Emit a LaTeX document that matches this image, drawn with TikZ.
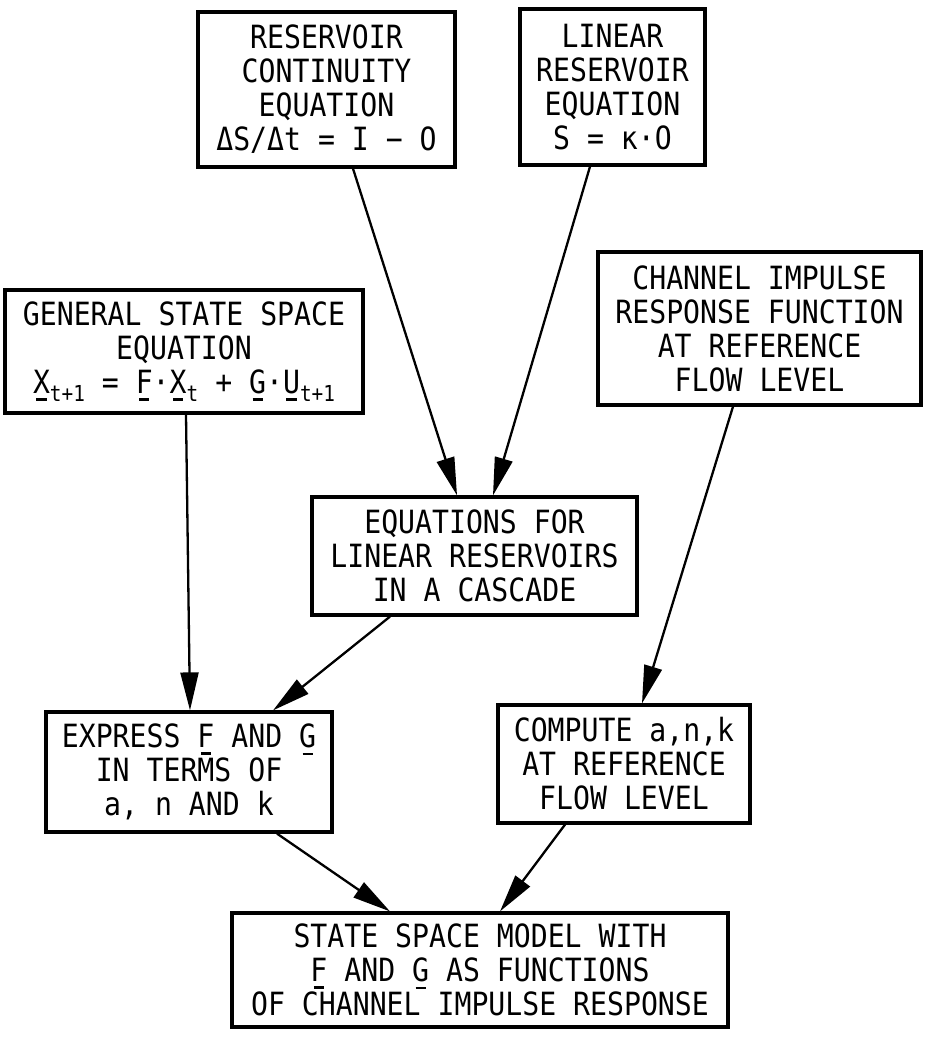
\documentclass[tikz,border=0pt]{standalone}
\usepackage{fontspec}
\usetikzlibrary{arrows.meta}
% plotter-like monospaced lettering
\newfontfamily\plotfont{DejaVu Sans Mono}[FakeStretch=0.88]
% short bold bar under a letter (vector / matrix mark)
\newcommand\vecbar[1]{\leavevmode\setbox0=\hbox{#1}%
  \vtop{\offinterlineskip\copy0\kern4.5pt
    \hbox to\wd0{\hss\vrule width 0.6\wd0 height 2.8pt depth 0pt\hss}}}
% lowered small index
\newcommand\idx[1]{\raisebox{-8pt}{\fontsize{22}{22}\selectfont #1}}
\tikzset{
  box/.style={draw, line width=3.2pt, align=center, inner sep=0pt,
    font=\plotfont\fontsize{32}{34}\selectfont},
  flow/.style={line width=2.3pt, -{Triangle[length=38pt,width=18pt]}}
}
\begin{document}
\begin{tikzpicture}[x=1pt, y=-1pt]
\fill[white] (0,0) rectangle (924,1038);
\useasboundingbox (0,0) rectangle (924,1038);

\node[box, minimum width=257pt, minimum height=155pt] (A) at (326.5,89.5)
  {RESERVOIR\\CONTINUITY\\EQUATION\\ΔS/Δt = I − O};
\node[box, minimum width=185pt, minimum height=156pt] (B) at (612.5,87)
  {LINEAR\\RESERVOIR\\EQUATION\\S = κ·O};
\node[box, minimum width=358pt, minimum height=123pt] (C) at (184,351.5)
  {GENERAL STATE SPACE\\EQUATION\\
   \vecbar{X}\idx{t+1} = \vecbar{F}·\vecbar{X}\idx{t} + \vecbar{G}·\vecbar{U}\idx{t+1}};
\node[box, minimum width=323pt, minimum height=153pt] (D) at (759.5,328.5)
  {CHANNEL IMPULSE\\RESPONSE FUNCTION\\AT REFERENCE\\FLOW LEVEL};
\node[box, minimum width=325pt, minimum height=118pt] (E) at (474.5,556)
  {EQUATIONS FOR\\LINEAR RESERVOIRS\\IN A CASCADE};
\node[box, minimum width=286pt, minimum height=120pt] (F) at (189,772)
  {EXPRESS \vecbar{F} AND \vecbar{G}\\IN TERMS OF\\a, n AND k};
\node[box, minimum width=252pt, minimum height=118pt] (G) at (624,764)
  {COMPUTE a,n,k\\AT REFERENCE\\FLOW LEVEL};
\node[box, minimum width=496pt, minimum height=114pt] (H) at (480,970)
  {STATE SPACE MODEL WITH\\\vecbar{F} AND \vecbar{G} AS FUNCTIONS\\OF CHANNEL IMPULSE RESPONSE};

\draw[flow] ([xshift=26.5pt]A.south) -- ([xshift=-17.5pt]E.north);
\draw[flow] ([xshift=-22.5pt]B.south) -- ([xshift=18.5pt]E.north);
\draw[flow] ([xshift=2pt]C.south) -- ([xshift=1pt]F.north);
\draw[flow] ([xshift=-84.5pt]E.south) -- ([xshift=84pt]F.north);
\draw[flow] ([xshift=-26.5pt]D.south) -- ([xshift=18pt]G.north);
\draw[flow] ([xshift=88pt]F.south) -- ([xshift=-90pt]H.north);
\draw[flow] ([xshift=-59pt]G.south) -- ([xshift=20pt]H.north);
\end{tikzpicture}
\end{document}
